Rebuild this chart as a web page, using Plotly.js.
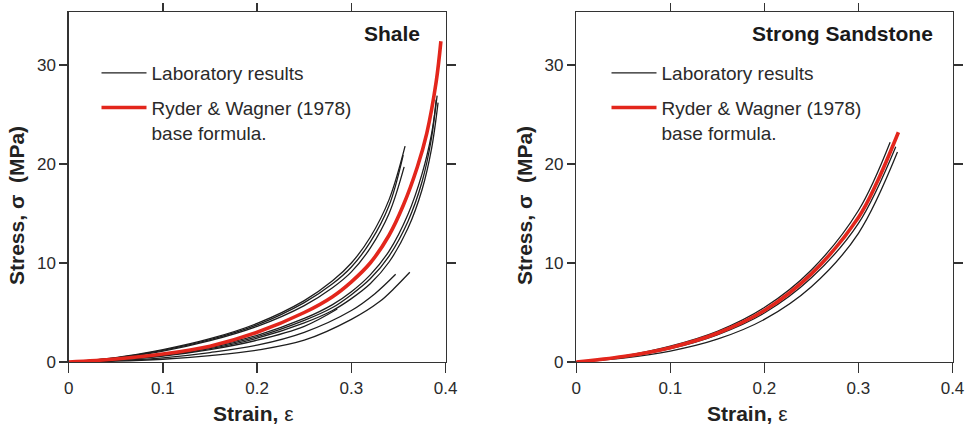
<!DOCTYPE html>
<html>
<head>
<meta charset="utf-8">
<script src="https://cdn.plot.ly/plotly-3.0.1.min.js"></script>
<style>html,body{margin:0;padding:0;background:#fff;}#chart{width:965px;height:429px;}</style>
</head>
<body>
<div id="chart"></div>
<script>
// ---------------- Data ----------------
const xTickVals = [0, 0.1, 0.2, 0.3, 0.4];
const xTickText = ['0', '0.1', '0.2', '0.3', '0.4'];
const yTickVals = [0, 10, 20, 30];
const yTickText = ['0', '10', '20', '30'];
const xMirrorTicks = [0.1, 0.2, 0.3];
const yMirrorTicks = [10, 20, 30];

const labName = 'Laboratory results';
const rwName = 'Ryder & Wagner (1978)<br>base formula.';
const panelTitles = ['Shale', 'Strong Sandstone'];

// Shale – laboratory curves (upper cluster)
const shaleU1X = [0, 0.05, 0.1, 0.15, 0.2, 0.25, 0.28, 0.3, 0.32, 0.34, 0.357];
const shaleU1Y = [0, 0.45, 1.25, 2.35, 3.9, 6.2, 8.2, 10.0, 12.6, 16.4, 21.8];
const shaleU2X = [0, 0.05, 0.1, 0.15, 0.2, 0.25, 0.28, 0.3, 0.32, 0.34, 0.355];
const shaleU2Y = [0, 0.42, 1.18, 2.25, 3.75, 6.0, 7.9, 9.6, 12.1, 15.8, 20.9];
const shaleU3X = [0, 0.05, 0.1, 0.15, 0.2, 0.25, 0.28, 0.3, 0.32, 0.34, 0.356];
const shaleU3Y = [0, 0.4, 1.1, 2.15, 3.6, 5.7, 7.5, 9.1, 11.5, 15.0, 19.7];
// Shale – laboratory curves (long cluster)
const shaleB1X = [0, 0.05, 0.1, 0.15, 0.2, 0.25, 0.28, 0.3, 0.32, 0.34, 0.36, 0.375, 0.385, 0.391];
const shaleB1Y = [0, 0.28, 0.75, 1.55, 2.7, 4.4, 5.8, 7.1, 8.8, 11.2, 14.9, 19.0, 23.0, 26.9];
const shaleB2X = [0, 0.05, 0.1, 0.15, 0.2, 0.25, 0.28, 0.3, 0.32, 0.34, 0.36, 0.375, 0.385, 0.39];
const shaleB2Y = [0, 0.25, 0.7, 1.45, 2.55, 4.2, 5.5, 6.8, 8.4, 10.7, 14.2, 18.2, 22.6, 26.5];
const shaleB3X = [0, 0.05, 0.1, 0.15, 0.2, 0.25, 0.28, 0.3, 0.32, 0.34, 0.36, 0.375, 0.385, 0.392];
const shaleB3Y = [0, 0.22, 0.65, 1.35, 2.4, 3.95, 5.2, 6.4, 7.9, 10.1, 13.5, 17.4, 21.5, 26.2];
// Shale – laboratory curves (lower, shorter)
const shaleL1X = [0, 0.05, 0.1, 0.15, 0.2, 0.25, 0.285];
const shaleL1Y = [0, 0.22, 0.6, 1.25, 2.2, 3.6, 5.35];
const shaleL2X = [0, 0.05, 0.1, 0.15, 0.2, 0.25, 0.3, 0.325, 0.347];
const shaleL2Y = [0, 0.14, 0.42, 0.95, 1.7, 3.0, 5.2, 6.9, 8.86];
const shaleL3X = [0, 0.05, 0.1, 0.15, 0.2, 0.25, 0.3, 0.33, 0.345, 0.362];
const shaleL3Y = [0, 0.08, 0.28, 0.65, 1.2, 2.2, 4.3, 6.1, 7.4, 9.06];
// Shale – Ryder & Wagner curve
const shaleRWX = [0, 0.05, 0.1, 0.15, 0.2, 0.25, 0.28, 0.3, 0.32, 0.34, 0.355, 0.37, 0.38, 0.39, 0.395];
const shaleRWY = [0, 0.3, 0.8, 1.6, 3.0, 5.0, 6.6, 8.1, 10.0, 12.8, 15.8, 19.7, 23.1, 28.3, 32.4];

// Strong Sandstone – laboratory curves
const sandS1X = [0, 0.05, 0.1, 0.15, 0.2, 0.25, 0.3, 0.3337];
const sandS1Y = [0, 0.6, 1.6, 3.1, 5.5, 9.3, 15.3, 22.2];
const sandS2X = [0, 0.05, 0.1, 0.15, 0.2, 0.25, 0.3, 0.3397];
const sandS2Y = [0, 0.5, 1.35, 2.75, 4.95, 8.5, 14.0, 21.75];
const sandS3X = [0, 0.05, 0.1, 0.15, 0.2, 0.25, 0.3, 0.3415];
const sandS3Y = [0, 0.4, 1.1, 2.3, 4.3, 7.6, 13.0, 21.2];
// Strong Sandstone – Ryder & Wagner curve
const sandRWX = [0, 0.05, 0.1, 0.15, 0.2, 0.25, 0.3, 0.32, 0.3425];
const sandRWY = [0, 0.55, 1.45, 2.9, 5.2, 8.9, 14.6, 18.2, 23.2];

// ---------------- Styles ----------------
const FONT = 'Liberation Sans, Arial, Helvetica, sans-serif';
const BLACK = '#1e1e1e';
const RED = '#e3261c';
const AXC = '#333333';

function lab(x, y, xa, ya, leg, show) {
  return {x: x, y: y, xaxis: xa, yaxis: ya, type: 'scatter', mode: 'lines',
    line: {color: BLACK, width: 1.3, shape: 'spline', smoothing: 1},
    name: labName, legend: leg, legendgroup: 'lab' + leg, showlegend: show, hoverinfo: 'skip'};
}
function rw(x, y, xa, ya, leg) {
  return {x: x, y: y, xaxis: xa, yaxis: ya, type: 'scatter', mode: 'lines',
    line: {color: RED, width: 3.6, shape: 'spline', smoothing: 1},
    name: rwName, legend: leg, legendgroup: 'rw' + leg, showlegend: true, hoverinfo: 'skip'};
}
// empty helper traces so the mirrored tick axes (top / right) get drawn
function frameTrace(xa, ya) {
  return {x: [], y: [], xaxis: xa, yaxis: ya, type: 'scatter', mode: 'lines', showlegend: false, hoverinfo: 'skip'};
}

const traces = [
  lab(shaleU1X, shaleU1Y, 'x', 'y', 'legend', true),
  lab(shaleU2X, shaleU2Y, 'x', 'y', 'legend', false),
  lab(shaleU3X, shaleU3Y, 'x', 'y', 'legend', false),
  lab(shaleB1X, shaleB1Y, 'x', 'y', 'legend', false),
  lab(shaleB2X, shaleB2Y, 'x', 'y', 'legend', false),
  lab(shaleB3X, shaleB3Y, 'x', 'y', 'legend', false),
  lab(shaleL1X, shaleL1Y, 'x', 'y', 'legend', false),
  lab(shaleL2X, shaleL2Y, 'x', 'y', 'legend', false),
  lab(shaleL3X, shaleL3Y, 'x', 'y', 'legend', false),
  rw(shaleRWX, shaleRWY, 'x', 'y', 'legend'),
  lab(sandS1X, sandS1Y, 'x2', 'y2', 'legend2', true),
  lab(sandS2X, sandS2Y, 'x2', 'y2', 'legend2', false),
  lab(sandS3X, sandS3Y, 'x2', 'y2', 'legend2', false),
  rw(sandRWX, sandRWY, 'x2', 'y2', 'legend2'),
  frameTrace('x3', 'y3'),
  frameTrace('x4', 'y4')
];

const W = 965, H = 429;
const px = v => v / W;
const py = v => 1 - v / H;
const XR = [0, 0.4], YR = [0, 35.35];
const yDom = [py(362), py(12)];
const tickFont = {family: FONT, size: 17, color: '#2a2a2a'};

function xAx(dom, anchor) {
  return {domain: dom, anchor: anchor, range: XR, tickvals: xTickVals, ticktext: xTickText,
    ticks: 'outside', ticklen: 10, tickwidth: 1.3, tickcolor: AXC, showline: true, linecolor: AXC,
    linewidth: 1.3, mirror: true, showgrid: false, zeroline: false, fixedrange: true,
    ticklabeloverflow: 'allow', tickfont: tickFont};
}
function yAx(anchor) {
  return {domain: yDom, anchor: anchor, range: YR, tickvals: yTickVals, ticktext: yTickText,
    ticks: 'outside', ticklen: 8, tickwidth: 1.3, tickcolor: AXC, showline: true, linecolor: AXC,
    linewidth: 1.3, mirror: true, showgrid: false, zeroline: false, fixedrange: true,
    ticklabeloverflow: 'allow', tickfont: tickFont};
}
function topAx(over, anchor) {
  return {overlaying: over, anchor: anchor, side: 'top', range: XR, tickvals: xMirrorTicks,
    showticklabels: false, ticks: 'outside', ticklen: 8, tickwidth: 1.3, tickcolor: AXC,
    showline: false, showgrid: false, zeroline: false, fixedrange: true};
}
function rightAx(over, anchor) {
  return {overlaying: over, anchor: anchor, side: 'right', range: YR, tickvals: yMirrorTicks,
    showticklabels: false, ticks: 'outside', ticklen: 9, tickwidth: 1.3, tickcolor: AXC,
    showline: false, showgrid: false, zeroline: false, fixedrange: true};
}

const titleFont = {family: FONT, size: 21, color: '#222'};
const legFont = {family: FONT, size: 19, color: '#2a2a2a'};

const layout = {
  width: W, height: H,
  margin: {l: 0, r: 0, t: 0, b: 0},
  paper_bgcolor: '#fff', plot_bgcolor: '#fff',
  font: {family: FONT},
  xaxis: xAx([px(68.7), px(445.6)], 'y'),
  yaxis: yAx('x'),
  xaxis2: xAx([px(576.2), px(952.5)], 'y2'),
  yaxis2: yAx('x2'),
  xaxis3: topAx('x', 'y3'),
  yaxis3: rightAx('y', 'x3'),
  xaxis4: topAx('x2', 'y4'),
  yaxis4: rightAx('y2', 'x4'),
  legend: {x: px(96.5), y: py(54), xanchor: 'left', yanchor: 'top', bgcolor: 'rgba(0,0,0,0)',
    font: legFont, valign: 'top', tracegroupgap: 7, traceorder: 'grouped', itemwidth: 45},
  legend2: {x: px(606.5), y: py(54), xanchor: 'left', yanchor: 'top', bgcolor: 'rgba(0,0,0,0)',
    font: legFont, valign: 'top', tracegroupgap: 7, traceorder: 'grouped', itemwidth: 45},
  annotations: [
    {text: '<b>' + panelTitles[0] + '</b>', xref: 'paper', yref: 'paper', x: px(422), y: py(34),
      xanchor: 'right', yanchor: 'middle', showarrow: false, font: {family: FONT, size: 21, color: '#1a1a1a'}},
    {text: '<b>' + panelTitles[1] + '</b>', xref: 'paper', yref: 'paper', x: px(935), y: py(34),
      xanchor: 'right', yanchor: 'middle', showarrow: false, font: {family: FONT, size: 21, color: '#1a1a1a'}},
    {text: '<b>Stress, σ&nbsp;&nbsp;(MPa)</b>', xref: 'paper', yref: 'paper', x: px(17), y: py(206),
      xanchor: 'center', yanchor: 'middle', textangle: -90, showarrow: false, font: titleFont},
    {text: '<b>Stress, σ&nbsp;&nbsp;(MPa)</b>', xref: 'paper', yref: 'paper', x: px(525), y: py(206),
      xanchor: 'center', yanchor: 'middle', textangle: -90, showarrow: false, font: titleFont},
    {text: '<b>Strain, </b>ε', xref: 'paper', yref: 'paper', x: px(253), y: py(413),
      xanchor: 'center', yanchor: 'middle', showarrow: false, font: titleFont},
    {text: '<b>Strain, </b>ε', xref: 'paper', yref: 'paper', x: px(747), y: py(413),
      xanchor: 'center', yanchor: 'middle', showarrow: false, font: titleFont}
  ]
};

Plotly.newPlot('chart', traces, layout, {displayModeBar: false, staticPlot: true});
</script>
</body>
</html>
